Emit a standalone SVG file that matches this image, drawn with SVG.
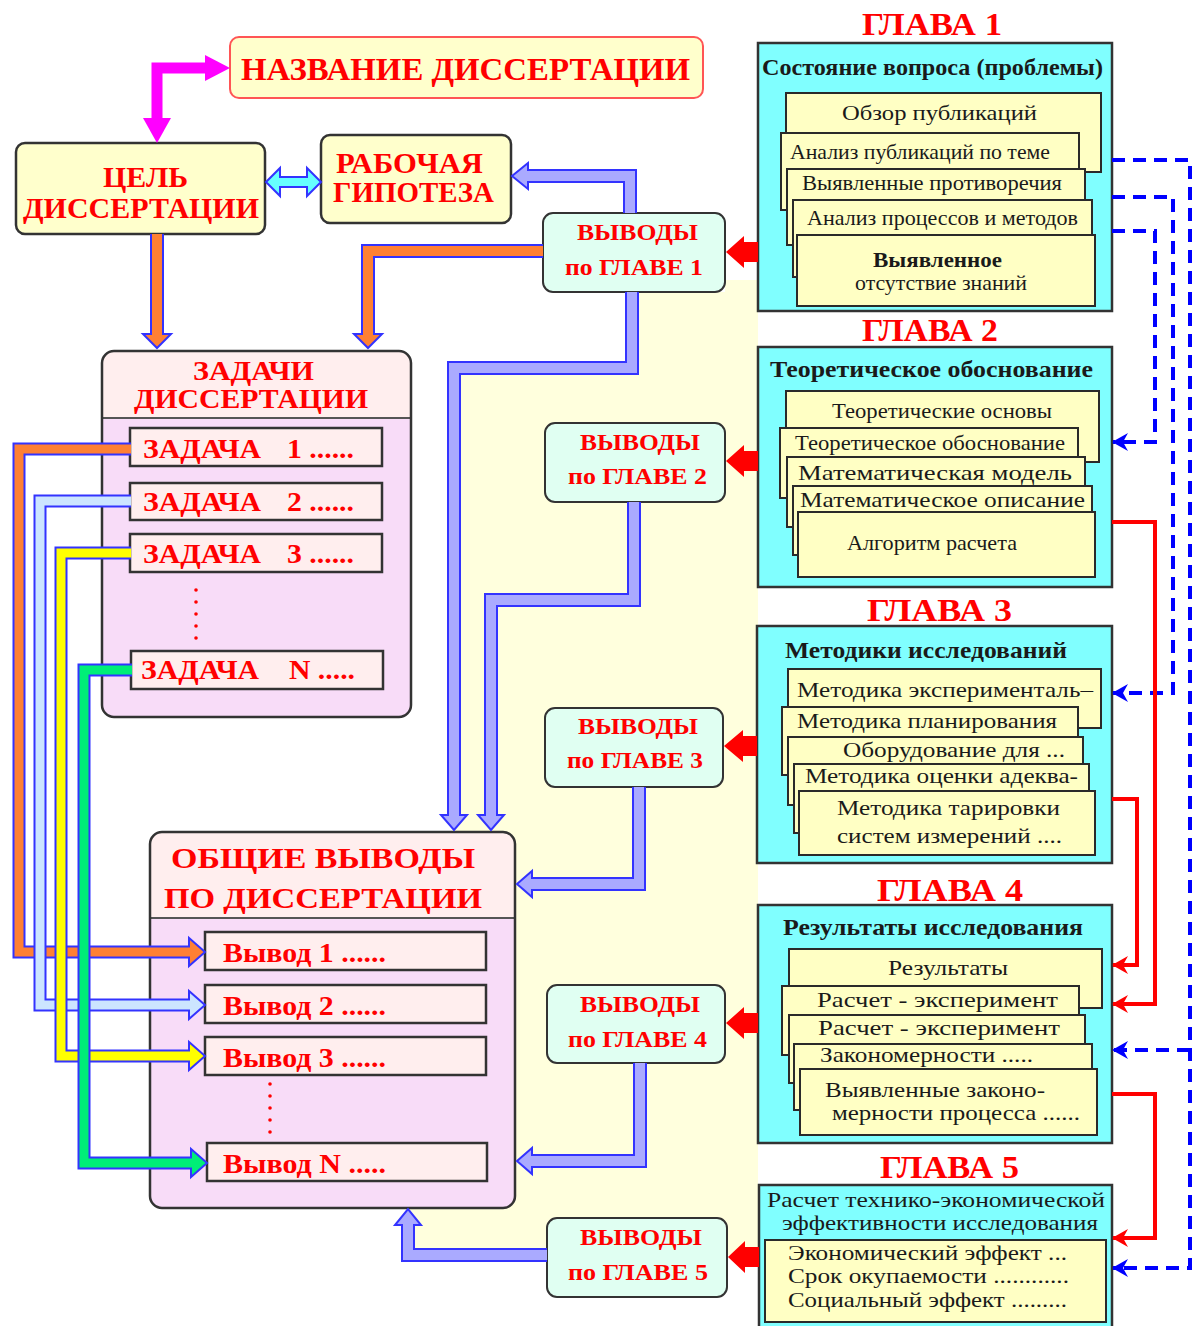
<svg xmlns="http://www.w3.org/2000/svg" width="1193" height="1326" viewBox="0 0 1193 1326">
<defs>
<style>
text{font-family:"Liberation Serif","Times New Roman",serif;}
.r{fill:#FF0000;font-weight:bold;}
.k{fill:#1a1a1a;font-weight:bold;}
.n{fill:#1a1a1a;}
.yb{fill:#FFFFCC;stroke:#333;stroke-width:2.5;}
.chap{fill:#80FFFF;stroke:#333;stroke-width:2.5;}
.card{fill:#FFFFC4;stroke:#2a2a2a;stroke-width:2;}
.row{fill:#FFEEEE;stroke:#333;stroke-width:2.5;}
.vy{fill:#E0FFF2;stroke:#333;stroke-width:2;}
.bo{fill:none;stroke:#3333FF;stroke-width:14;stroke-linejoin:miter;}
.bi{fill:none;stroke:#AAAAFF;stroke-width:10;stroke-linejoin:miter;}
.bh{fill:#AAAAFF;stroke:#3333FF;stroke-width:2;}
.oi{fill:none;stroke:#FF8033;stroke-width:10;stroke-linejoin:miter;}
.oh{fill:#FF8033;stroke:#3333FF;stroke-width:2;}
.to{fill:none;stroke:#3333FF;stroke-width:13;stroke-linejoin:miter;}
.ti{fill:none;stroke-width:9;stroke-linejoin:miter;}
.dash{fill:none;stroke:#0000FF;stroke-width:4;stroke-dasharray:13 8;marker-end:url(#ab);}
.rl{fill:none;stroke:#FF0000;stroke-width:4;marker-end:url(#ar);}
.ra{fill:#FF0000;}
.dot{fill:#FF0000;}
</style>
<marker id="ab" markerUnits="userSpaceOnUse" markerWidth="16" markerHeight="18" refX="15" refY="9" orient="auto" viewBox="0 0 16 18"><path d="M0,0 L16,9 L0,18 L5,9 z" fill="#0000FF"/></marker>
<marker id="ar" markerUnits="userSpaceOnUse" markerWidth="16" markerHeight="18" refX="15" refY="9" orient="auto" viewBox="0 0 16 18"><path d="M0,0 L16,9 L0,18 L5,9 z" fill="#FF0000"/></marker>
</defs>
<rect width="1193" height="1326" fill="#FFFFFF"/>
<polygon points="454,368 632,368 632,292 725,292 725,280 758,280 758,1255 408,1255 408,1209 454,1209" fill="#FFFFDD"/>

<g id="title">
<rect x="230" y="37" width="473" height="61" rx="9" fill="#FFFFCC" stroke="#FF5555" stroke-width="2"/>
<text class="r" x="241" y="80" font-size="32" textLength="449" lengthAdjust="spacingAndGlyphs">НАЗВАНИЕ ДИССЕРТАЦИИ</text>
</g>

<g id="goal">
<rect class="yb" x="16" y="143" width="249" height="91" rx="9"/>
<text class="r" x="103" y="187" font-size="30" textLength="85" lengthAdjust="spacingAndGlyphs">ЦЕЛЬ</text>
<text class="r" x="23" y="218" font-size="30" textLength="236" lengthAdjust="spacingAndGlyphs">ДИССЕРТАЦИИ</text>
</g>

<g id="hypothesis">
<rect class="yb" x="321" y="135" width="190" height="88" rx="9"/>
<text class="r" x="336" y="173" font-size="29" textLength="147" lengthAdjust="spacingAndGlyphs">РАБОЧАЯ</text>
<text class="r" x="333" y="202" font-size="29" textLength="161" lengthAdjust="spacingAndGlyphs">ГИПОТЕЗА</text>
</g>

<g id="tasks">
<rect x="102" y="351" width="309" height="366" rx="12" fill="#F8DCF8"/>
<path d="M102,418 V363 Q102,351 114,351 H399 Q411,351 411,363 V418 Z" fill="#FFEEEE"/>
<line x1="102" y1="418" x2="411" y2="418" stroke="#555" stroke-width="2"/>
<rect x="102" y="351" width="309" height="366" rx="12" fill="none" stroke="#333" stroke-width="2.5"/>
<text class="r" x="193" y="380" font-size="27" textLength="121" lengthAdjust="spacingAndGlyphs">ЗАДАЧИ</text>
<text class="r" x="134" y="408" font-size="27" textLength="234" lengthAdjust="spacingAndGlyphs">ДИССЕРТАЦИИ</text>
<g id="task1"><rect class="row" x="130" y="428" width="252" height="38"/>
<text class="r" x="143" y="458" font-size="27" textLength="118" lengthAdjust="spacingAndGlyphs">ЗАДАЧА</text>
<text class="r" x="287" y="458" font-size="27" textLength="67" lengthAdjust="spacingAndGlyphs">1 ......</text></g>
<g id="task2"><rect class="row" x="130" y="483" width="252" height="37"/>
<text class="r" x="143" y="511" font-size="27" textLength="118" lengthAdjust="spacingAndGlyphs">ЗАДАЧА</text>
<text class="r" x="287" y="511" font-size="27" textLength="67" lengthAdjust="spacingAndGlyphs">2 ......</text></g>
<g id="task3"><rect class="row" x="130" y="534" width="252" height="38"/>
<text class="r" x="143" y="563" font-size="27" textLength="118" lengthAdjust="spacingAndGlyphs">ЗАДАЧА</text>
<text class="r" x="287" y="563" font-size="27" textLength="67" lengthAdjust="spacingAndGlyphs">3 ......</text></g>
<g id="taskN"><rect class="row" x="131" y="651" width="252" height="38"/>
<text class="r" x="141" y="679" font-size="27" textLength="118" lengthAdjust="spacingAndGlyphs">ЗАДАЧА</text>
<text class="r" x="289" y="679" font-size="27" textLength="66" lengthAdjust="spacingAndGlyphs">N .....</text></g>
<circle class="dot" cx="196" cy="590" r="1.8"/><circle class="dot" cx="196" cy="602" r="1.8"/><circle class="dot" cx="196" cy="614" r="1.8"/><circle class="dot" cx="196" cy="626" r="1.8"/><circle class="dot" cx="196" cy="638" r="1.8"/>
</g>

<g id="general">
<rect x="150" y="832" width="365" height="376" rx="12" fill="#F8DCF8"/>
<path d="M150,918 V844 Q150,832 162,832 H503 Q515,832 515,844 V918 Z" fill="#FFEEEE"/>
<line x1="150" y1="918" x2="515" y2="918" stroke="#555" stroke-width="2"/>
<rect x="150" y="832" width="365" height="376" rx="12" fill="none" stroke="#333" stroke-width="2.5"/>
<text class="r" x="171" y="868" font-size="30" textLength="304" lengthAdjust="spacingAndGlyphs">ОБЩИЕ  ВЫВОДЫ</text>
<text class="r" x="164" y="908" font-size="30" textLength="318" lengthAdjust="spacingAndGlyphs">ПО ДИССЕРТАЦИИ</text>
<g id="concl1"><rect class="row" x="205" y="932" width="281" height="38"/>
<text class="r" x="223" y="962" font-size="27" textLength="163" lengthAdjust="spacingAndGlyphs">Вывод 1 ......</text></g>
<g id="concl2"><rect class="row" x="205" y="985" width="281" height="38"/>
<text class="r" x="223" y="1015" font-size="27" textLength="163" lengthAdjust="spacingAndGlyphs">Вывод 2 ......</text></g>
<g id="concl3"><rect class="row" x="205" y="1037" width="281" height="38"/>
<text class="r" x="223" y="1067" font-size="27" textLength="163" lengthAdjust="spacingAndGlyphs">Вывод 3 ......</text></g>
<g id="conclN"><rect class="row" x="207" y="1143" width="280" height="38"/>
<text class="r" x="223" y="1173" font-size="27" textLength="163" lengthAdjust="spacingAndGlyphs">Вывод N .....</text></g>
<circle class="dot" cx="270" cy="1084" r="1.8"/><circle class="dot" cx="270" cy="1096" r="1.8"/><circle class="dot" cx="270" cy="1108" r="1.8"/><circle class="dot" cx="270" cy="1120" r="1.8"/><circle class="dot" cx="270" cy="1132" r="1.8"/>
</g>

<g id="v1"><rect class="vy" x="543" y="213" width="182" height="79" rx="10"/>
<text class="r" x="577" y="240" font-size="23" textLength="121" lengthAdjust="spacingAndGlyphs">ВЫВОДЫ</text>
<text class="r" x="565" y="275" font-size="23" textLength="138" lengthAdjust="spacingAndGlyphs">по ГЛАВЕ 1</text></g>
<g id="v2"><rect class="vy" x="545" y="423" width="180" height="79" rx="10"/>
<text class="r" x="580" y="450" font-size="23" textLength="120" lengthAdjust="spacingAndGlyphs">ВЫВОДЫ</text>
<text class="r" x="568" y="484" font-size="23" textLength="139" lengthAdjust="spacingAndGlyphs">по ГЛАВЕ 2</text></g>
<g id="v3"><rect class="vy" x="545" y="708" width="178" height="79" rx="10"/>
<text class="r" x="578" y="734" font-size="23" textLength="120" lengthAdjust="spacingAndGlyphs">ВЫВОДЫ</text>
<text class="r" x="567" y="768" font-size="23" textLength="136" lengthAdjust="spacingAndGlyphs">по ГЛАВЕ 3</text></g>
<g id="v4"><rect class="vy" x="547" y="985" width="178" height="78" rx="10"/>
<text class="r" x="580" y="1012" font-size="23" textLength="120" lengthAdjust="spacingAndGlyphs">ВЫВОДЫ</text>
<text class="r" x="568" y="1047" font-size="23" textLength="139" lengthAdjust="spacingAndGlyphs">по ГЛАВЕ 4</text></g>
<g id="v5"><rect class="vy" x="547" y="1218" width="180" height="79" rx="10"/>
<text class="r" x="580" y="1245" font-size="23" textLength="122" lengthAdjust="spacingAndGlyphs">ВЫВОДЫ</text>
<text class="r" x="568" y="1280" font-size="23" textLength="140" lengthAdjust="spacingAndGlyphs">по ГЛАВЕ 5</text></g>

<g id="ch1">
<text class="r" x="862" y="35" font-size="32" textLength="140" lengthAdjust="spacingAndGlyphs">ГЛАВА  1</text>
<rect class="chap" x="758" y="43" width="354" height="268"/>
<text class="k" x="762" y="75" font-size="23" textLength="341" lengthAdjust="spacingAndGlyphs">Состояние вопроса (проблемы)</text>
<rect class="card" x="786" y="93" width="315" height="79"/>
<text class="n" x="842" y="120" font-size="22" textLength="195" lengthAdjust="spacingAndGlyphs">Обзор публикаций</text>
<rect class="card" x="781" y="133" width="298" height="77"/>
<text class="n" x="790" y="159" font-size="22" textLength="260" lengthAdjust="spacingAndGlyphs">Анализ публикаций по теме</text>
<rect class="card" x="787" y="169" width="298" height="76"/>
<text class="n" x="802" y="190" font-size="22" textLength="260" lengthAdjust="spacingAndGlyphs">Выявленные противоречия</text>
<rect class="card" x="793" y="200" width="299" height="77"/>
<text class="n" x="807" y="225" font-size="22" textLength="271" lengthAdjust="spacingAndGlyphs">Анализ процессов и методов</text>
<rect class="card" x="797" y="235" width="298" height="71"/>
<text class="k" x="873" y="267" font-size="22" textLength="129" lengthAdjust="spacingAndGlyphs">Выявленное</text>
<text class="n" x="855" y="290" font-size="22" textLength="172" lengthAdjust="spacingAndGlyphs">отсутствие знаний</text>
</g>

<g id="ch2">
<text class="r" x="862" y="341" font-size="32" textLength="136" lengthAdjust="spacingAndGlyphs">ГЛАВА 2</text>
<rect class="chap" x="758" y="347" width="354" height="240"/>
<text class="k" x="770" y="377" font-size="23" textLength="323" lengthAdjust="spacingAndGlyphs">Теоретическое обоснование</text>
<rect class="card" x="786" y="391" width="313" height="71"/>
<text class="n" x="832" y="418" font-size="22" textLength="220" lengthAdjust="spacingAndGlyphs">Теоретические основы</text>
<rect class="card" x="780" y="428" width="298" height="70"/>
<text class="n" x="795" y="450" font-size="22" textLength="270" lengthAdjust="spacingAndGlyphs">Теоретическое обоснование</text>
<rect class="card" x="787" y="457" width="298" height="70"/>
<text class="n" x="798" y="480" font-size="22" textLength="274" lengthAdjust="spacingAndGlyphs">Математическая  модель</text>
<rect class="card" x="793" y="486" width="299" height="69"/>
<text class="n" x="800" y="507" font-size="22" textLength="285" lengthAdjust="spacingAndGlyphs">Математическое описание</text>
<rect class="card" x="798" y="512" width="297" height="65"/>
<text class="n" x="847" y="550" font-size="22" textLength="170" lengthAdjust="spacingAndGlyphs">Алгоритм расчета</text>
</g>

<g id="ch3">
<text class="r" x="867" y="621" font-size="32" textLength="145" lengthAdjust="spacingAndGlyphs">ГЛАВА  3</text>
<rect class="chap" x="757" y="626" width="355" height="237"/>
<text class="k" x="785" y="658" font-size="23" textLength="282" lengthAdjust="spacingAndGlyphs">Методики исследований</text>
<rect class="card" x="788" y="669" width="313" height="59"/>
<text class="n" x="797" y="697" font-size="22" textLength="296" lengthAdjust="spacingAndGlyphs">Методика эксперименталь–</text>
<rect class="card" x="782" y="707" width="296" height="68"/>
<text class="n" x="797" y="728" font-size="22" textLength="260" lengthAdjust="spacingAndGlyphs">Методика планирования</text>
<rect class="card" x="788" y="737" width="295" height="68"/>
<text class="n" x="843" y="757" font-size="22" textLength="222" lengthAdjust="spacingAndGlyphs">Оборудование для ...</text>
<rect class="card" x="794" y="764" width="295" height="69"/>
<text class="n" x="805" y="783" font-size="22" textLength="273" lengthAdjust="spacingAndGlyphs">Методика оценки адеква-</text>
<rect class="card" x="799" y="791" width="296" height="64"/>
<text class="n" x="837" y="815" font-size="22" textLength="223" lengthAdjust="spacingAndGlyphs">Методика тарировки</text>
<text class="n" x="837" y="843" font-size="22" textLength="225" lengthAdjust="spacingAndGlyphs">систем измерений ....</text>
</g>

<g id="ch4">
<text class="r" x="877" y="901" font-size="32" textLength="146" lengthAdjust="spacingAndGlyphs">ГЛАВА  4</text>
<rect class="chap" x="758" y="905" width="354" height="238"/>
<text class="k" x="783" y="935" font-size="23" textLength="300" lengthAdjust="spacingAndGlyphs">Результаты исследования</text>
<rect class="card" x="789" y="949" width="313" height="59"/>
<text class="n" x="888" y="975" font-size="22" textLength="120" lengthAdjust="spacingAndGlyphs">Результаты</text>
<rect class="card" x="782" y="986" width="297" height="69"/>
<text class="n" x="817" y="1007" font-size="22" textLength="241" lengthAdjust="spacingAndGlyphs">Расчет  -  эксперимент</text>
<rect class="card" x="789" y="1015" width="296" height="68"/>
<text class="n" x="818" y="1035" font-size="22" textLength="242" lengthAdjust="spacingAndGlyphs">Расчет  -  эксперимент</text>
<rect class="card" x="794" y="1044" width="298" height="66"/>
<text class="n" x="820" y="1062" font-size="22" textLength="213" lengthAdjust="spacingAndGlyphs">Закономерности .....</text>
<rect class="card" x="800" y="1069" width="297" height="66"/>
<text class="n" x="825" y="1097" font-size="22" textLength="220" lengthAdjust="spacingAndGlyphs">Выявленные законо-</text>
<text class="n" x="832" y="1120" font-size="22" textLength="248" lengthAdjust="spacingAndGlyphs">мерности процесса ......</text>
</g>

<g id="ch5">
<text class="r" x="880" y="1178" font-size="32" textLength="139" lengthAdjust="spacingAndGlyphs">ГЛАВА 5</text>
<rect class="chap" x="759" y="1185" width="353" height="150"/>
<text class="n" x="767" y="1207" font-size="22" textLength="338" lengthAdjust="spacingAndGlyphs">Расчет технико-экономической</text>
<text class="n" x="782" y="1230" font-size="22" textLength="316" lengthAdjust="spacingAndGlyphs">эффективности исследования</text>
<rect class="card" x="765" y="1240" width="341" height="82"/>
<text class="n" x="788" y="1260" font-size="21" textLength="279" lengthAdjust="spacingAndGlyphs">Экономический эффект ...</text>
<text class="n" x="788" y="1283" font-size="21" textLength="281" lengthAdjust="spacingAndGlyphs">Срок окупаемости ............</text>
<text class="n" x="788" y="1307" font-size="21" textLength="279" lengthAdjust="spacingAndGlyphs">Социальный эффект .........</text>
</g>

<g id="connectors">
<!-- magenta double arrow -->
<path d="M157,120 V68 H207" fill="none" stroke="#FF00FF" stroke-width="11" stroke-linejoin="miter"/>
<polygon points="205,55 230,68 205,81" fill="#FF00FF"/>
<polygon points="143,118 171,118 157,143" fill="#FF00FF"/>
<!-- cyan double arrow -->
<polygon points="266,182 280,168 280,177 307,177 307,168 321,182 307,196 307,187 280,187 280,196" fill="#66FFFF" stroke="#3333FF" stroke-width="2"/>
<!-- V1 to hypothesis -->
<path class="bo" d="M630,213 V176 H528"/>
<polygon class="bh" points="528,163 512,176 528,189"/>
<path class="bi" d="M630,213 V176 H526"/>
<!-- orange V1 to tasks -->
<path class="bo" d="M543,251 H368 V334"/>
<polygon class="oh" points="354,334 382,334 368,348"/>
<path class="oi" d="M543,251 H368 V336"/>
<!-- orange goal to tasks -->
<path class="bo" d="M157,234 V334"/>
<polygon class="oh" points="143,334 171,334 157,348"/>
<path class="oi" d="M157,234 V336"/>
<!-- V1 to general -->
<path class="bo" d="M632,292 V368 H454 V815"/>
<polygon class="bh" points="441,815 467,815 454,830"/>
<path class="bi" d="M632,292 V368 H454 V817"/>
<!-- V2 to general -->
<path class="bo" d="M634,502 V600 H491 V815"/>
<polygon class="bh" points="478,815 504,815 491,830"/>
<path class="bi" d="M634,502 V600 H491 V817"/>
<!-- V3 to general -->
<path class="bo" d="M639,787 V884 H532"/>
<polygon class="bh" points="532,871 532,897 517,884"/>
<path class="bi" d="M639,787 V884 H530"/>
<!-- V4 to general -->
<path class="bo" d="M640,1063 V1161 H532"/>
<polygon class="bh" points="532,1148 532,1174 517,1161"/>
<path class="bi" d="M640,1063 V1161 H530"/>
<!-- V5 to general -->
<path class="bo" d="M547,1255 H408 V1225"/>
<polygon class="bh" points="395,1225 421,1225 408,1209"/>
<path class="bi" d="M547,1255 H408 V1223"/>
<!-- task lines -->
<path class="to" d="M131,449 H19 V952 H189"/>
<polygon points="189,938 189,966 205,952" fill="#FF8033" stroke="#3333FF" stroke-width="2"/>
<path class="ti" stroke="#FF8033" d="M131,449 H19 V952 H191"/>
<path class="to" d="M131,501 H40 V1005 H189"/>
<polygon points="189,991 189,1019 205,1005" fill="#CCE5FF" stroke="#3333FF" stroke-width="2"/>
<path class="ti" stroke="#CCE5FF" d="M131,501 H40 V1005 H191"/>
<path class="to" d="M131,553 H61 V1056 H189"/>
<polygon points="189,1042 189,1070 205,1056" fill="#FFFF00" stroke="#3333FF" stroke-width="2"/>
<path class="ti" stroke="#FFFF00" d="M131,553 H61 V1056 H191"/>
<path class="to" d="M132,670 H84 V1163 H191"/>
<polygon points="191,1149 191,1177 207,1163" fill="#00EE77" stroke="#3333FF" stroke-width="2"/>
<path class="ti" stroke="#00EE77" d="M132,670 H84 V1163 H193"/>
<!-- red block arrows chapters to conclusions -->
<polygon class="ra" points="758,242 744,242 744,236 726,252 744,268 744,262 758,262"/>
<polygon class="ra" points="758,451 744,451 744,445 726,461 744,477 744,471 758,471"/>
<polygon class="ra" points="757,736 743,736 743,730 724,746 743,762 743,756 757,756"/>
<polygon class="ra" points="758,1013 744,1013 744,1007 726,1023 744,1039 744,1033 758,1033"/>
<polygon class="ra" points="759,1247 745,1247 745,1241 728,1257 745,1273 745,1267 759,1267"/>
<!-- dashed blue links -->
<path class="dash" d="M1112,160 H1190 V1268 H1113"/>
<path class="dash" d="M1190,1050 H1113"/>
<path class="dash" d="M1112,197 H1173 V693 H1113"/>
<path class="dash" d="M1112,231 H1155 V442 H1113"/>
<!-- red links -->
<path class="rl" d="M1112,522 H1155 V1004 H1113"/>
<path class="rl" d="M1112,799 H1137 V965 H1113"/>
<path class="rl" d="M1112,1094 H1155 V1238 H1113"/>
</g>
</svg>
